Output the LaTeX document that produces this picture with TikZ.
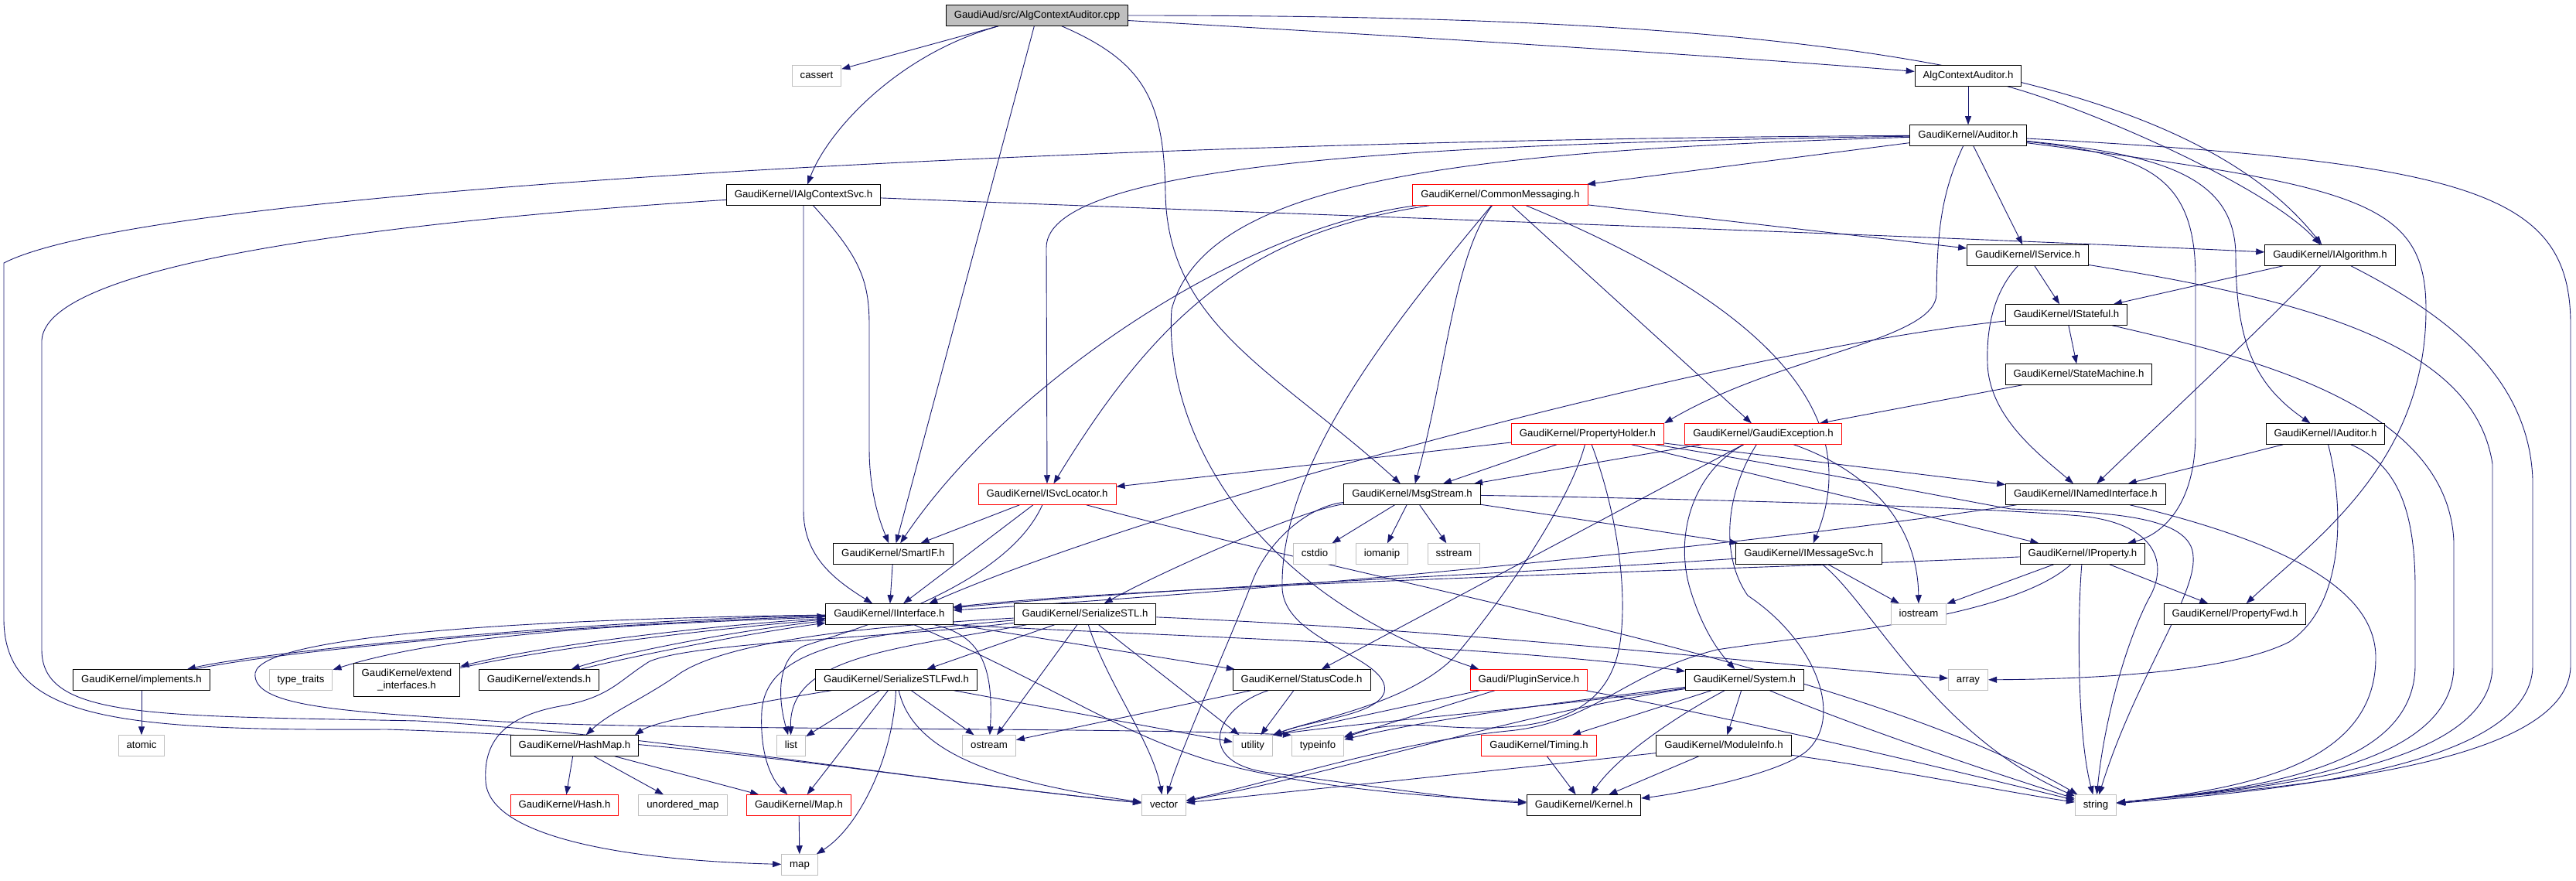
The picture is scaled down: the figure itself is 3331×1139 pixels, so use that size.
\documentclass[tikz,border=0pt]{standalone}
\usepackage{fontspec}
\setmainfont{Liberation Sans}
\usetikzlibrary{arrows.meta}
\definecolor{edgeblue}{RGB}{25,25,112}
\definecolor{rootgray}{RGB}{191,191,191}
\definecolor{sysgray}{RGB}{191,191,191}
\pgfdeclarelayer{background}
\pgfsetlayers{background,main}

\begin{document}
\begin{tikzpicture}[x=1pt, y=-1pt,
    boxbase/.style={rectangle, draw=black, line width=1pt, fill=white, inner xsep=10.5pt, inner ysep=0pt, minimum height=26.5pt, font=\fontsize{13.2}{16.5}\selectfont},
    hdr/.style={boxbase, text height=9.6pt, text depth=2.8pt},
    syshdr/.style={hdr, draw=sysgray},
    trunc/.style={hdr, draw=red},
    inc/.style={draw=edgeblue, line width=0.9pt, -{Triangle[length=11pt,width=8pt]}}
]
\useasboundingbox (0,0) rectangle (3331,1139);

% Nodes
\node[hdr, fill=rootgray] (root) at (1341,20) {GaudiAud/src/AlgContextAuditor.cpp};
\node[syshdr] (cassert) at (1056,98) {cassert};
\node[hdr] (aca) at (2545,98) {AlgContextAuditor.h};
\node[hdr] (aud) at (2545,175) {GaudiKernel/Auditor.h};
\node[hdr] (iacs) at (1039,252) {GaudiKernel/IAlgContextSvc.h};
\node[trunc] (cm) at (1940,252) {GaudiKernel/CommonMessaging.h};
\node[hdr] (isvc) at (2622,330) {GaudiKernel/IService.h};
\node[hdr] (ialg) at (3013,330) {GaudiKernel/IAlgorithm.h};
\node[hdr] (istate) at (2672,407) {GaudiKernel/IStateful.h};
\node[hdr] (sm) at (2688,484) {GaudiKernel/StateMachine.h};
\node[trunc] (ph) at (2053,561) {GaudiKernel/PropertyHolder.h};
\node[trunc] (ge) at (2280,561) {GaudiKernel/GaudiException.h};
\node[hdr] (iaud) at (3007,561) {GaudiKernel/IAuditor.h};
\node[trunc] (isl) at (1354,639) {GaudiKernel/ISvcLocator.h};
\node[hdr] (msg) at (1826,639) {GaudiKernel/MsgStream.h};
\node[hdr] (inamed) at (2697,639) {GaudiKernel/INamedInterface.h};
\node[hdr] (smart) at (1155,716) {GaudiKernel/SmartIF.h};
\node[syshdr] (cstdio) at (1700,716) {cstdio};
\node[syshdr] (iomanip) at (1787,716) {iomanip};
\node[syshdr] (sstream) at (1880,716) {sstream};
\node[hdr] (imsg) at (2339,716) {GaudiKernel/IMessageSvc.h};
\node[hdr] (iprop) at (2693,716) {GaudiKernel/IProperty.h};
\node[hdr] (ii) at (1150,794) {GaudiKernel/IInterface.h};
\node[hdr] (sstl) at (1403,794) {GaudiKernel/SerializeSTL.h};
\node[syshdr] (iostream) at (2481,794) {iostream};
\node[hdr] (pfwd) at (2890,794) {GaudiKernel/PropertyFwd.h};
\node[hdr] (impl) at (183,879) {GaudiKernel/implements.h};
\node[syshdr] (ttraits) at (389,879) {type\_traits};
\node[boxbase, align=center, minimum height=43pt] (extif) at (526,879) {GaudiKernel/extend\\\_interfaces.h};
\node[hdr] (extends) at (697,879) {GaudiKernel/extends.h};
\node[hdr] (sfwd) at (1159,879) {GaudiKernel/SerializeSTLFwd.h};
\node[hdr] (sc) at (1683,879) {GaudiKernel/StatusCode.h};
\node[trunc] (plug) at (1977,879) {Gaudi/PluginService.h};
\node[hdr] (sys) at (2256,879) {GaudiKernel/System.h};
\node[syshdr] (array) at (2545,879) {array};
\node[syshdr] (atomic) at (183,964) {atomic};
\node[hdr] (hashmap) at (743,964) {GaudiKernel/HashMap.h};
\node[syshdr] (list) at (1023,964) {list};
\node[syshdr] (ostream) at (1279,964) {ostream};
\node[syshdr] (utility) at (1620,964) {utility};
\node[syshdr] (typeinfo) at (1704,964) {typeinfo};
\node[trunc] (timing) at (1990,964) {GaudiKernel/Timing.h};
\node[hdr] (modinfo) at (2229,964) {GaudiKernel/ModuleInfo.h};
\node[trunc] (hash) at (730,1041) {GaudiKernel/Hash.h};
\node[syshdr] (umap) at (883,1041) {unordered\_map};
\node[trunc] (maph) at (1033,1041) {GaudiKernel/Map.h};
\node[syshdr] (vector) at (1505,1041) {vector};
\node[hdr] (kern) at (2048,1041) {GaudiKernel/Kernel.h};
\node[syshdr] (string) at (2710,1041) {string};
\node[syshdr] (map) at (1034,1118) {map};

% Arrows
\begin{pgfonlayer}{background}
% AlgContextAuditor.cpp
\draw[inc] (root) -- (cassert);
\draw[inc] (root) .. controls (1160,70) and (1070,170) .. (iacs);
\draw[inc] (root) -- (smart);
\draw[inc] (root) .. controls (1480,80) and (1505,130) .. (1507,250) .. controls (1510,420) and (1650,480) .. (msg);
\draw[inc] (root) .. controls (1700,40) and (2200,70) .. (aca);
\draw[inc] (root) .. controls (2200,20) and (2800,60) .. (ialg);
\draw[inc] (aca) -- (aud);
\draw[inc] (aca) .. controls (2700,140) and (2930,240) .. (ialg);

% Auditor.h
\draw[inc] (aud) -- (isvc);
\draw[inc] (aud) .. controls (2800,200) and (2890,230) .. (2891,330) .. controls (2891,450) and (2920,500) .. (iaud);
\draw[inc] (aud) .. controls (2510,250) and (2505,300) .. (2504,380) .. controls (2504,440) and (2300,460) .. (ph.north east);
\draw[inc] (aud) .. controls (1900,185) and (1353,205) .. (1353,320) -- (isl);
\draw[inc] (aud) -- (cm.7);
\draw[inc] (aud) .. controls (2780,200) and (2839,230) .. (2839,360) -- (2839,560) .. controls (2839,660) and (2790,693) .. (iprop);
\draw[inc] (aud) .. controls (3050,240) and (3137,260) .. (3137,400) .. controls (3137,600) and (2990,700) .. (pfwd);
\draw[inc] (aud) .. controls (3200,210) and (3324,250) .. (3324,420) -- (3324,860) .. controls (3324,1000) and (2900,1020) .. (string);
\draw[inc] (aud) .. controls (1500,180) and (200,240) .. (5,340) -- (5,800) .. controls (5,930) and (150,945) .. (500,943) .. controls (900,955) and (1150,1005) .. (vector);
\draw[inc] (aud) .. controls (1900,195) and (1560,230) .. (1515,400) .. controls (1505,540) and (1600,760) .. (plug.168);

% IAlgContextSvc.h
\draw[inc] (iacs.south) -- (1039,660) .. controls (1039,720) and (1080,750) .. (ii);
\draw[inc] (iacs) .. controls (1110,330) and (1124,360) .. (1124,420) -- (1124,580) .. controls (1124,640) and (1140,680) .. (smart);
\draw[inc] (iacs) .. controls (1700,278) and (2500,305) .. (ialg);
\draw[inc] (iacs) .. controls (600,280) and (60,330) .. (54,440) -- (54,840) .. controls (54,930) and (200,925) .. (540,932) .. controls (850,950) and (1150,1005) .. (vector);

% CommonMessaging.h
\draw[inc] (cm) -- (isvc);
\draw[inc] (cm) .. controls (1600,295) and (1300,500) .. (smart);
\draw[inc] (cm) .. controls (1620,300) and (1500,400) .. (isl);
\draw[inc] (cm) .. controls (1800,420) and (1655,600) .. (1658,760) .. controls (1660,830) and (1800,850) .. (1790,895) .. controls (1780,925) and (1700,930) .. (utility.north east);
\draw[inc] (cm) .. controls (1880,330) and (1870,480) .. (msg);
\draw[inc] (cm) -- (ge);
\draw[inc] (cm) .. controls (2250,380) and (2420,520) .. (imsg);

% ISvcLocator.h, SmartIF.h
\draw[inc] (isl) -- (smart);
\draw[inc] (isl) -- (ii);
\draw[inc] (isl) .. controls (1300,760) and (1100,815) .. (1040,835) .. controls (1005,850) and (1005,900) .. (list);
\draw[inc] (isl) .. controls (1800,760) and (2400,860) .. (string);
\draw[inc] (smart) -- (ii);

% PropertyHolder.h
\draw[inc] (ph) -- (isl);
\draw[inc] (ph) -- (msg);
\draw[inc] (ph) .. controls (2030,650) and (1940,780) .. (1880,850) .. controls (1820,910) and (1700,930) .. (utility.north east);
\draw[inc] (ph) .. controls (2090,660) and (2105,760) .. (2095,830) .. controls (2080,930) and (1990,950) .. (1850,938) .. controls (1790,935) and (1760,945) .. (typeinfo);
\draw[inc] (ph) -- (iprop);
\draw[inc] (ph) -- (inamed);
\draw[inc] (ph) .. controls (2300,600) and (2500,640) .. (2600,658) .. controls (2720,662) and (2835,665) .. (2836,720) .. controls (2840,770) and (2760,880) .. (string);

% GaudiException.h
\draw[inc] (ge) -- (msg);
\draw[inc] (ge) .. controls (2190,610) and (2165,690) .. (2185,760) .. controls (2200,810) and (2220,840) .. (sys);
\draw[inc] (ge) -- (sc);
\draw[inc] (ge) .. controls (2230,640) and (2225,720) .. (2260,770) .. controls (2350,830) and (2385,930) .. (2335,972) .. controls (2300,1000) and (2180,1025) .. (kern);
\draw[inc] (ge) .. controls (2420,610) and (2480,680) .. (iostream);

% MsgStream.h
\draw[inc] (msg) -- (cstdio);
\draw[inc] (msg) -- (iomanip);
\draw[inc] (msg) -- (sstream);
\draw[inc] (msg) -- (imsg);
\draw[inc] (msg) .. controls (1680,660) and (1500,740) .. (sstl);
\draw[inc] (msg) .. controls (1690,655) and (1640,700) .. (1620,750) .. controls (1590,830) and (1530,960) .. (vector);
\draw[inc] (msg) .. controls (2200,645) and (2550,655) .. (2690,667) .. controls (2790,677) and (2805,730) .. (2778,775) .. controls (2745,840) and (2720,940) .. (string);

% IMessageSvc.h, IProperty.h
\draw[inc] (imsg) .. controls (1900,745) and (1500,760) .. (ii);
\draw[inc] (imsg) -- (iostream);
\draw[inc] (imsg) .. controls (2420,780) and (2500,950) .. (string);
\draw[inc] (iprop) .. controls (2300,735) and (1500,755) .. (ii);
\draw[inc] (iprop) -- (iostream);
\draw[inc] (iprop) .. controls (2600,800) and (2350,820) .. (2220,840) .. controls (2100,870) and (2060,935) .. (1950,945) .. controls (1800,960) and (1650,1010) .. (vector);
\draw[inc] (iprop) .. controls (2686,800) and (2686,950) .. (string);
\draw[inc] (iprop) -- (pfwd);

% INamedInterface.h, IAuditor.h
\draw[inc] (inamed) .. controls (2300,700) and (1700,760) .. (ii);
\draw[inc] (inamed) .. controls (2950,700) and (3072,760) .. (3072,850) .. controls (3072,990) and (2900,1020) .. (string);
\draw[inc] (iaud) -- (inamed);
\draw[inc] (iaud) .. controls (3100,600) and (3123,660) .. (3123,760) -- (3123,860) .. controls (3123,1000) and (2900,1020) .. (string);
\draw[inc] (iaud) .. controls (3030,650) and (3035,780) .. (2960,830) .. controls (2880,870) and (2700,878) .. (array);

% IService.h, IAlgorithm.h, IStateful.h
\draw[inc] (isvc) -- (istate);
\draw[inc] (isvc) .. controls (2585,370) and (2568,410) .. (2570,470) .. controls (2572,540) and (2640,590) .. (inamed);
\draw[inc] (isvc) .. controls (3000,390) and (3200,450) .. (3223,600) -- (3223,860) .. controls (3223,1000) and (2900,1020) .. (string);
\draw[inc] (ialg) -- (istate);
\draw[inc] (ialg) .. controls (2950,400) and (2800,540) .. (inamed);
\draw[inc] (ialg) .. controls (3150,400) and (3270,480) .. (3275,620) -- (3275,860) .. controls (3275,1000) and (2900,1025) .. (string);
\draw[inc] (istate) -- (sm);
\draw[inc] (istate) .. controls (2250,450) and (1500,650) .. (ii.15);
\draw[inc] (istate) .. controls (2900,460) and (3165,520) .. (3173,700) -- (3173,860) .. controls (3173,1000) and (2900,1020) .. (string);
\draw[inc] (sm) -- (ge);

% SerializeSTL.h, SerializeSTLFwd.h
\draw[inc] (sstl) -- (sfwd);
\draw[inc] (sstl) .. controls (1150,840) and (1020,850) .. (list);
\draw[inc] (sstl) -- (ostream);
\draw[inc] (sstl) .. controls (1430,880) and (1490,960) .. (vector);
\draw[inc] (sstl) -- (utility);
\draw[inc] (sstl) .. controls (1900,815) and (2300,860) .. (array);
\draw[inc] (sstl) .. controls (1150,825) and (900,830) .. (840,855) .. controls (800,880) and (790,900) .. (730,912) .. controls (650,925) and (625,960) .. (628,1010) .. controls (632,1080) and (800,1112) .. (map);
\draw[inc] (sstl) .. controls (1100,820) and (990,840) .. (985,920) .. controls (982,980) and (1000,1010) .. (maph);
\draw[inc] (sstl) .. controls (1150,808) and (950,825) .. (880,870) .. controls (830,905) and (790,920) .. (hashmap);
\draw[inc] (sfwd) .. controls (1000,905) and (850,930) .. (hashmap.10);
\draw[inc] (sfwd) -- (list);
\draw[inc] (sfwd) -- (maph);
\draw[inc] (sfwd) .. controls (1155,980) and (1110,1070) .. (map);
\draw[inc] (sfwd) .. controls (1180,970) and (1280,1010) .. (vector);
\draw[inc] (sfwd) -- (ostream);
\draw[inc] (sfwd) -- (utility);

% IInterface.h
\draw[inc] (ii) .. controls (1350,880) and (1450,950) .. (1570,985) .. controls (1700,1020) and (1850,1030) .. (kern);
\draw[inc] (ii) .. controls (1260,820) and (1286,850) .. (ostream);
\draw[inc] (ii) -- (sc);
\draw[inc] (ii.south east) .. controls (1500,822) and (1950,835) .. (sys);
\draw[inc] (ii) .. controls (900,805) and (600,812) .. (ttraits);
\draw[inc] (ii) .. controls (700,800) and (340,820) .. (330,870) .. controls (325,915) and (450,920) .. (650,933) .. controls (900,945) and (1450,940) .. (typeinfo.north west);
\draw[inc] (ii) .. controls (800,800) and (350,840) .. (impl);
\draw[inc] (impl) .. controls (400,835) and (800,805) .. (ii);
\draw[inc] (ii) .. controls (900,810) and (700,835) .. (extif);
\draw[inc] (extif) .. controls (700,840) and (900,815) .. (ii);
\draw[inc] (ii) .. controls (950,815) and (800,845) .. (extends);
\draw[inc] (extends) .. controls (810,850) and (960,820) .. (ii);
\draw[inc] (impl) -- (atomic);

% HashMap.h, Map.h
\draw[inc] (hashmap) -- (hash);
\draw[inc] (hashmap) -- (umap);
\draw[inc] (hashmap) -- (maph);
\draw[inc] (maph) -- (map);

% StatusCode.h, PluginService.h
\draw[inc] (sc) -- (ostream);
\draw[inc] (sc) -- (utility);
\draw[inc] (sc) .. controls (1570,915) and (1540,990) .. (1650,1000) .. controls (1800,1020) and (1900,1035) .. (kern);
\draw[inc] (plug) -- (utility.north east);
\draw[inc] (plug) -- (typeinfo);
\draw[inc] (plug) .. controls (2250,930) and (2500,990) .. (string);

% System.h, ModuleInfo.h, Timing.h
\draw[inc] (sys) .. controls (2000,915) and (1750,935) .. (utility.north east);
\draw[inc] (sys) .. controls (2000,910) and (1850,930) .. (typeinfo);
\draw[inc] (sys) -- (timing);
\draw[inc] (sys) .. controls (2160,930) and (2090,980) .. (kern);
\draw[inc] (sys) -- (modinfo);
\draw[inc] (sys) .. controls (2400,940) and (2580,1000) .. (string);
\draw[inc] (sys) .. controls (1950,925) and (1750,995) .. (vector);
\draw[inc] (modinfo) -- (kern);
\draw[inc] (modinfo) .. controls (1900,1000) and (1650,1025) .. (vector);
\draw[inc] (modinfo) .. controls (2450,995) and (2600,1025) .. (string);
\draw[inc] (timing) -- (kern);
\end{pgfonlayer}

\end{tikzpicture}
\end{document}
